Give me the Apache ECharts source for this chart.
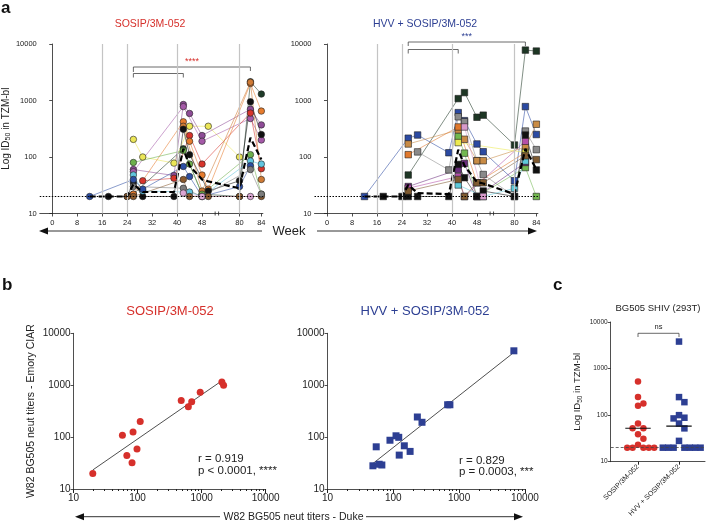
<!DOCTYPE html>
<html><head><meta charset="utf-8">
<script src="https://cdn.jsdelivr.net/npm/echarts@6/dist/echarts.min.js"></script>
<style>html,body{margin:0;padding:0;background:#fff}#c{width:706px;height:525px}</style>
</head><body><div id="c"></div>
<script>
// ---------- shared ----------
const weeks = [12,18,24,26,29,39,42,44,48,50,80,82,84];
const weekTicks = [0,8,16,24,32,40,48,80,84];
const vaccineWeeks = [16,24,40,80];
const logTicks = [10,100,1000,10000];

// ---------- panel a : SOSIP/3M-052 (circles) ----------
const sYellow  = [null,null,null,205,100,78,null,350,null,350,100,null,null];
const sPurple  = [null,null,null,60,null,47,850,590,240,null,null,700,370];
const sMagenta = [null,null,null,55,null,null,780,null,190,null,null,480,200];
const sRed     = [null,null,null,null,38,42,null,240,75,null,null,600,62];
const sDkGreen = [null,null,null,22,null,null,140,null,22,null,20,2150,1300];
const sOrange  = [null,null,null,22,null,null,420,190,48,27,null,2000,650];
const sAmber   = [null,null,null,null,null,null,350,null,25,null,null,2100,40];
const sBlack   = [null,20,20,35,20,20,310,110,null,25,38,950,250];
const sGreen   = [null,null,null,80,null,null,130,75,22,null,null,110,22];
const sCyan    = [null,null,null,48,25,null,null,24,20,null,null,85,75];
const sBlue    = [20,null,null,40,27,null,68,45,20,null,30,70,null];
const sBrown   = [null,null,20,20,null,null,40,20,null,20,20,null,20];
const sGray    = [null,null,null,30,null,null,28,null,20,null,null,60,22];
const sPink    = [null,null,null,null,null,null,23,null,20,null,null,20,null];
const sMean    = [20,20,20,33,24,24,140,70,40,37,28,220,90];

// ---------- panel a : HVV + SOSIP/3M-052 (squares) ----------
const hDkGreen = [null,null,null,48,null,null,1080,1380,505,550,163,7800,7500];
const hBlue    = [20,null,null,215,245,119,610,440,170,124,38,780,250];
const hGray    = [null,null,null,null,123,59,515,420,86,49,20,288,135];
const hTan     = [null,null,null,170,null,null,300,206,86,86,null,150,380];
const hOrange  = [null,null,null,110,null,null,340,null,35,null,null,120,null];
const hGreen   = [null,null,null,null,null,null,230,117,20,null,null,65,20];
const hPurple  = [null,null,null,30,null,null,60,77,20,null,null,80,null];
const hMagenta = [null,null,null,28,null,null,45,20,null,null,null,190,null];
const hBlack   = [null,20,20,20,20,20,74,43,20,25,20,245,59];
const hCyan    = [null,null,null,null,null,null,32,null,null,20,28,85,null];
const hYellow  = [null,null,null,null,null,null,180,null,null,null,null,120,null];
const hBrown   = [null,null,null,25,null,null,40,20,35,35,null,105,90];
const hPink    = [null,null,null,null,null,null,null,340,null,20,null,null,null];
const hMean    = [20,20,20,32,23,22,135,70,36,34,22,140,60];

// ---------- panel b ----------
const sosipDuke  = [20,58,68,85,82,98,110,480,620,700,950,2070,2200];
const sosipEmory = [20,108,44,125,32,59,200,510,385,480,730,1150,1000];
const hvvDuke    = [49,55,61,67,89,110,121,123,147,180,232,273,670,725,6800];
const hvvEmory   = [28,65,30,29,87,106,99,45,68,53,244,193,420,420,4600];
const sosipStats = ['r = 0.919','p < 0.0001, ****'];
const hvvStats   = ['r = 0.829','p = 0.0003, ***'];

// ---------- panel c ----------
const cCategories = ['SOSIP/3M-052','HVV + SOSIP/3M-052'];
const cSosip = [530,244,178,160,66,52,52,39,31,23,20,20,20,20,20];
const cHvv   = [3800,244,190,100,88,85,66,52,28,20,20,20,20,20,20,20];

// ---------- styles ----------
const RED = '#d6302b', BLUE = '#2d3f93';
const FONT = 'Liberation Sans, Arial, sans-serif';
const sColors = {sYellow:'#ece657',sPurple:'#8e4b97',sMagenta:'#a55aa8',sRed:'#d8352c',sDkGreen:'#1f3b29',
  sOrange:'#e67c2e',sAmber:'#cf7a34',sBlack:'#111111',sGreen:'#6db04b',sCyan:'#62c4de',sBlue:'#2c4ea3',
  sBrown:'#8a5a2e',sGray:'#7c7c7c',sPink:'#dba6d3'};
const hColors = {hDkGreen:'#1d3624',hBlue:'#2b4aa2',hGray:'#8a8a8a',hTan:'#c88b45',hOrange:'#e0782c',
  hGreen:'#72b84f',hPurple:'#6b2d7c',hMagenta:'#b44fa9',hBlack:'#111111',hCyan:'#5ec9da',hYellow:'#ece94f',
  hBrown:'#7f5a30',hPink:'#d79acb'};
const sAnimals = {sYellow,sPurple,sMagenta,sRed,sDkGreen,sOrange,sAmber,sBlack,sGreen,sCyan,sBlue,sBrown,sGray,sPink};
const hAnimals = {hDkGreen,hBlue,hGray,hTan,hOrange,hGreen,hPurple,hMagenta,hBlack,hCyan,hYellow,hBrown,hPink};

// broken week axis: 0..52 linear, 76..84 stretched
function weekToAxis(w){ return w <= 52 ? w : 60 + (w - 80) * 1.75; }
function axisToWeek(v){ return v <= 52 ? Math.round(v) : Math.round(80 + (v - 60) / 1.75); }
function toPts(vals){ const o=[]; vals.forEach((v,i)=>{ if(v!=null) o.push([weekToAxis(weeks[i]), v]); }); return o; }

const axisCol = '#222';
function logY(gi, fs, extra){
  return Object.assign({type:'log', logBase:10, min:10, max:10000, gridIndex:gi,
    axisLine:{show:true, lineStyle:{color:axisCol, width:0.8}},
    axisTick:{show:true, length:3, lineStyle:{color:axisCol, width:0.8}},
    axisLabel:{fontSize:fs, color:'#222', margin:3, fontFamily:FONT, formatter:v=>String(Math.round(v))},
    splitLine:{show:false}}, extra||{});
}
function weekX(gi){
  const tv = weekTicks.map(weekToAxis);
  return {type:'value', gridIndex:gi, min:-4, max:67.5,
    axisLine:{show:true, onZero:false, lineStyle:{color:axisCol, width:0.8}},
    axisTick:{show:true, length:3, customValues:tv, lineStyle:{color:axisCol, width:0.8}},
    axisLabel:{fontSize:7.5, color:'#222', margin:5, fontFamily:FONT, customValues:tv, formatter:v=>String(axisToWeek(v))},
    splitLine:{show:false}};
}

const series = [];
function addPanelA(gi, animals, colors, mean, symbol){
  Object.keys(animals).forEach(k=>{
    series.push({type:'line', xAxisIndex:gi, yAxisIndex:gi, data:toPts(animals[k]),
      symbol:symbol, symbolSize:6.5, showSymbol:true, animation:false,
      itemStyle:{color:colors[k], borderColor:'#222', borderWidth:0.6},
      lineStyle:{color:colors[k], width:0.7, opacity:0.8}, z:3});
  });
  series.push({type:'line', xAxisIndex:gi, yAxisIndex:gi, data:toPts(mean), symbol:'none', animation:false,
    lineStyle:{color:'#000', width:2.2, type:[6,3]}, z:4,
    markLine:{silent:true, symbol:'none', animation:false, label:{show:false},
      data: vaccineWeeks.map(w=>({xAxis:weekToAxis(w), lineStyle:{color:'#c4c4c4', width:1.2, type:'solid'}}))
        .concat([{yAxis:20, lineStyle:{color:'#000', width:1, type:[1.5,1.5]}}])}});
}
addPanelA(0, sAnimals, sColors, sMean, 'circle');
addPanelA(1, hAnimals, hColors, hMean, 'rect');

// panel b
function fitLine(xs, ys){
  const lx = xs.map(Math.log10), ly = ys.map(Math.log10), n = xs.length;
  const mx = lx.reduce((a,b)=>a+b)/n, my = ly.reduce((a,b)=>a+b)/n;
  let sxy=0, sxx=0; for(let i=0;i<n;i++){ sxy+=(lx[i]-mx)*(ly[i]-my); sxx+=(lx[i]-mx)**2; }
  const b = sxy/sxx, a = my - b*mx;
  const x0 = Math.min(...xs), x1 = Math.max(...xs);
  return [[x0, Math.pow(10, a + b*Math.log10(x0))],[x1, Math.pow(10, a + b*Math.log10(x1))]];
}
function addPanelB(gi, xs, ys, color, symbol){
  series.push({type:'line', xAxisIndex:gi, yAxisIndex:gi, data:fitLine(xs,ys), symbol:'none', animation:false,
    lineStyle:{color:'#222', width:0.8}, z:2});
  series.push({type:'scatter', xAxisIndex:gi, yAxisIndex:gi, data:xs.map((x,i)=>[x,ys[i]]), symbol:symbol,
    symbolSize:7, itemStyle:{color:color, opacity:1}, animation:false, z:3});
}
addPanelB(2, sosipDuke, sosipEmory, RED, 'circle');
addPanelB(3, hvvDuke, hvvEmory, BLUE, 'rect');

// panel c: simple beeswarm layout + geometric mean
const cPxPerUnitX = 41, cPxPerDecade = 46.6, cGap = 5.4, cDy = 7;
function swarm(vals, center){
  const placed = [];
  const order = vals.map((v,i)=>i).sort((a,b)=>vals[b]-vals[a]);
  const out = new Array(vals.length);
  order.forEach(i=>{
    const y = Math.log10(vals[i]) * cPxPerDecade;
    for(let k=0;k<40;k++){
      const off = (k===0?0:(k%2?1:-1)*Math.ceil(k/2)) * cGap;
      if(placed.every(p=>!(Math.abs(p[0]-off) < cGap*0.98 && Math.abs(p[1]-y) < cDy))){
        placed.push([off,y]); out[i] = [center + off/cPxPerUnitX, vals[i]]; break;
      }
    }
  });
  return out;
}
function gmean(vals){ return Math.pow(10, vals.reduce((a,v)=>a+Math.log10(v),0)/vals.length); }
[[cSosip,1,RED,'circle',6.5],[cHvv,2,BLUE,'rect',6.5]].forEach(([vals,c,col,sym,sz])=>{
  series.push({type:'scatter', xAxisIndex:4, yAxisIndex:4, data:swarm(vals,c), symbol:sym, symbolSize:sz,
    itemStyle:{color:col, opacity:1}, animation:false, z:3});
  const g = gmean(vals);
  series.push({type:'line', xAxisIndex:4, yAxisIndex:4, data:[[c-0.31,g],[c+0.31,g]], symbol:'none', animation:false,
    lineStyle:{color:'#111', width:1.2}, z:4});
});
series[series.length-1].markLine = {silent:true, symbol:'none', animation:false, label:{show:false},
  data:[{yAxis:20, lineStyle:{color:'#444', width:0.8, type:[3,2]}}]};

const option = {
  animation:false,
  textStyle:{fontFamily:FONT},
  grid:[
    {left:39.5, top:44, width:223.4, height:169.5},
    {left:314.5, top:44, width:223.4, height:169.5},
    {left:73.5, top:333.3, width:192.2, height:155.7},
    {left:327.5, top:333.3, width:197.4, height:155.7},
    {left:610.7, top:322, width:94.3, height:139.7}
  ],
  xAxis:[
    weekX(0), weekX(1),
    {type:'log', logBase:10, min:10, max:10000, gridIndex:2,
      axisLine:{lineStyle:{color:axisCol, width:0.8}}, axisTick:{length:4, lineStyle:{color:axisCol}},
      minorTick:{show:true, length:2, splitNumber:9, lineStyle:{color:axisCol}},
      axisLabel:{fontSize:10, color:'#222', margin:4, formatter:v=>String(Math.round(v))}, splitLine:{show:false}},
    {type:'log', logBase:10, min:10, max:10000, gridIndex:3,
      axisLine:{lineStyle:{color:axisCol, width:0.8}}, axisTick:{length:4, lineStyle:{color:axisCol}},
      minorTick:{show:true, length:2, splitNumber:9, lineStyle:{color:axisCol}},
      axisLabel:{fontSize:10, color:'#222', margin:4, formatter:v=>String(Math.round(v))}, splitLine:{show:false}},
    {type:'value', gridIndex:4, min:0.334, max:2.634,
      axisLine:{onZero:false, lineStyle:{color:axisCol, width:0.8}},
      axisTick:{length:3, customValues:[1,2], lineStyle:{color:axisCol}},
      axisLabel:{fontSize:7, color:'#222', rotate:45, margin:4, customValues:[1,2], formatter:v=>cCategories[Math.round(v)-1]},
      splitLine:{show:false}}
  ],
  yAxis:[
    logY(0, 7.5, {name:'Log ID{sub|50} in TZM-bl', nameLocation:'middle', nameGap:26, nameRotate:90,
      nameTextStyle:{fontSize:10, color:'#222', rich:{sub:{fontSize:7, padding:[5,0,0,0], color:'#222'}}}}),
    logY(1, 7.5),
    logY(2, 10, {name:'W82 BG505 neut titers - Emory CIAR', nameLocation:'middle', nameGap:37, nameRotate:90,
      nameTextStyle:{fontSize:10.5, color:'#222'}}),
    logY(3, 10),
    logY(4, 6.5, {name:'Log ID{sub|50} in TZM-bl', nameLocation:'middle', nameGap:27, nameRotate:90,
      nameTextStyle:{fontSize:9.5, color:'#222', rich:{sub:{fontSize:6.5, padding:[5,0,0,0], color:'#222'}}}})
  ],
  series: series
};

const chart = echarts.init(document.getElementById('c'), null, {renderer:'canvas'});
chart.setOption(option);

// ---------- decorations ----------
function P(gi, x, y){ return chart.convertToPixel({gridIndex:gi}, [x, y]); }
const G = [];
function txt(t, x, y, fs, col, align, weight){
  G.push({type:'text', silent:true, style:{text:t, x:x, y:y, font:(weight||'normal')+' '+fs+'px '+FONT,
    fill:col||'#222', textAlign:align||'center', textVerticalAlign:'middle'}});
}
function pl(points, w, col){ G.push({type:'polyline', silent:true, shape:{points:points}, style:{stroke:col||'#333', lineWidth:w||0.8, fill:null}}); }
function tri(points){ G.push({type:'polygon', silent:true, shape:{points:points}, style:{fill:'#111'}}); }

// panel labels & titles
txt('a', 1, 8, 17, '#111', 'left', 'bold');
txt('b', 2, 285, 17, '#111', 'left', 'bold');
txt('c', 553, 285, 17, '#111', 'left', 'bold');
txt('SOSIP/3M-052', 150, 24, 10.5, RED);
txt('HVV + SOSIP/3M-052', 425, 24, 10.5, BLUE);
txt('SOSIP/3M-052', 170, 311.5, 13, RED);
txt('HVV + SOSIP/3M-052', 425, 311.5, 13, BLUE);
txt('BG505 SHIV (293T)', 658, 308, 9.5, '#222');

// brackets panel a
[[0, 67, 72, 71, 73.5, 77.5, '****', RED],[1, 42, 46, 46, 49.5, 53.5, '***', BLUE]].forEach(([gi,yl,dl,dr,ys,ds,star,col])=>{
  const xa = P(gi, weekToAxis(26), 20)[0], xb = P(gi, weekToAxis(82), 20)[0], xs = P(gi, weekToAxis(42), 20)[0];
  pl([[xa,dl],[xa,yl],[xb,yl],[xb,dr]], 0.8, '#444');
  pl([[xa,ds],[xa,ys],[xs,ys],[xs,ds]], 0.8, '#444');
  txt(star, (xa+xb)/2, yl-5, 9, col);
  // axis break
  const p1 = P(gi, 52.2, 10), p2 = P(gi, 53.3, 10);
  G.push({type:'rect', silent:true, shape:{x:p1[0], y:p1[1]-2, width:p2[0]-p1[0], height:4}, style:{fill:'#fff'}});
  pl([[p1[0],p1[1]-2],[p1[0],p1[1]+2]], 0.8, '#222');
  pl([[p2[0],p2[1]-2],[p2[0],p2[1]+2]], 0.8, '#222');
});

// week arrows
pl([[46,231],[262,231]], 1, '#333'); tri([[39,231],[48,227.5],[48,234.5]]);
txt('Week', 289, 231, 13, '#222');
pl([[317,231],[528,231]], 1, '#333'); tri([[537,231],[528,227.5],[528,234.5]]);

// panel b texts and arrow
txt(sosipStats[0], 198, 459, 11.5, '#222', 'left');
txt(sosipStats[1], 198, 471, 11.5, '#222', 'left');
txt(hvvStats[0], 459, 460.5, 11.5, '#222', 'left');
txt(hvvStats[1], 459, 472, 11.5, '#222', 'left');
pl([[83,516.7],[220,516.7]], 1, '#333'); tri([[75,516.7],[84,513.2],[84,520.2]]);
txt('W82 BG505 neut titers - Duke', 293.5, 516.7, 10.5, '#222');
pl([[366,516.7],[514,516.7]], 1, '#333'); tri([[523,516.7],[514,513.2],[514,520.2]]);

// panel c bracket
const c1 = P(4, 1, 20)[0], c2 = P(4, 2, 20)[0];
pl([[c1,337],[c1,333.3],[c2,333.3],[c2,337]], 0.8, '#444');
txt('ns', (c1+c2)/2, 327, 7.5, '#222');

chart.setOption({graphic: G});
</script>
</body></html>
